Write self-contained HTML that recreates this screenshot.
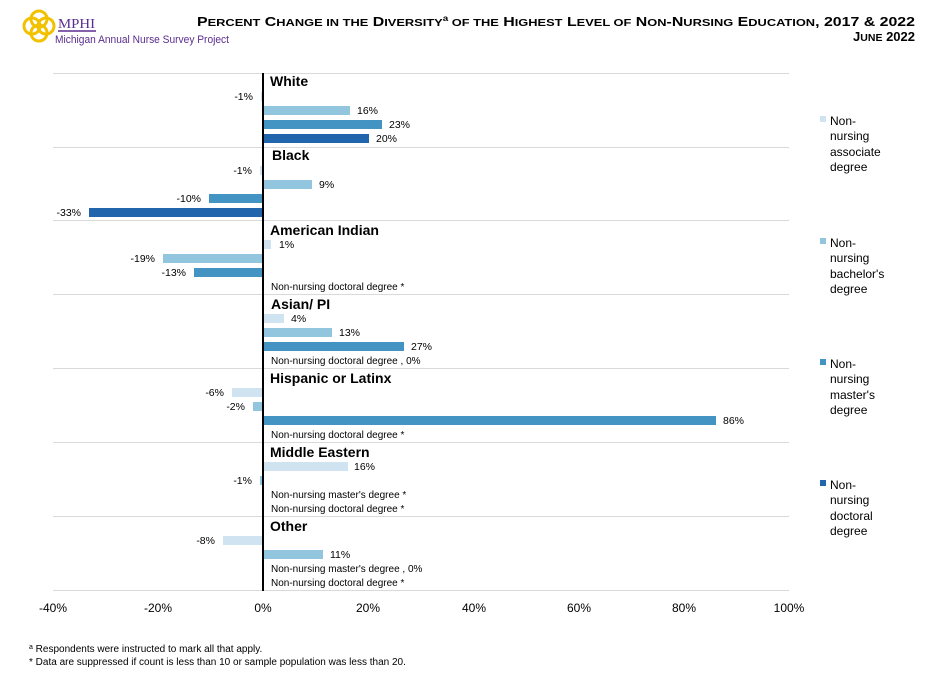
<!DOCTYPE html>
<html><head><meta charset="utf-8"><style>
body{margin:0;background:#fff;}
svg{display:block;font-family:"Liberation Sans",Arial,sans-serif;}
</style></head><body>
<svg width="947" height="678" viewBox="0 0 947 678" xmlns="http://www.w3.org/2000/svg">
<!-- logo -->
<g fill="none" stroke="#f2c200" stroke-width="3">
<circle cx="32" cy="26" r="8"/><circle cx="46" cy="26" r="8"/><circle cx="39" cy="19" r="8"/><circle cx="39" cy="33" r="8"/>
</g>
<line x1="58" x2="96" y1="31" y2="31" stroke="#5b2d8e" stroke-width="1.5"/>
<text x="58" y="28" font-size="14" fill="#5b2d8e" font-family="Liberation Serif,serif" textLength="37" lengthAdjust="spacingAndGlyphs">MPHI</text>
<text x="55" y="43" font-size="11" fill="#5b2d8e" font-family="Liberation Sans Narrow,Liberation Sans,sans-serif" textLength="174" lengthAdjust="spacingAndGlyphs">Michigan Annual Nurse Survey Project</text>
<!-- title -->
<text x="915" y="26" text-anchor="end" font-size="13" font-weight="bold" fill="#000" font-family="Liberation Sans Narrow,Liberation Sans,sans-serif" textLength="718" lengthAdjust="spacingAndGlyphs">P<tspan font-size="10.5">ERCENT</tspan> C<tspan font-size="10.5">HANGE IN THE</tspan> D<tspan font-size="10.5">IVERSITY</tspan><tspan font-size="8" dy="-5">a</tspan><tspan dy="5" font-size="10.5"> OF THE</tspan> H<tspan font-size="10.5">IGHEST</tspan> L<tspan font-size="10.5">EVEL OF</tspan> N<tspan font-size="10.5">ON</tspan>-N<tspan font-size="10.5">URSING</tspan> E<tspan font-size="10.5">DUCATION</tspan>, 2017 &amp; 2022</text>
<text x="915" y="41" text-anchor="end" font-size="13" font-weight="bold" fill="#000" font-family="Liberation Sans Narrow,Liberation Sans,sans-serif">J<tspan font-size="10.5">UNE</tspan> 2022</text>
<!-- gridlines -->
<g stroke="#d9d9d9" stroke-width="1">
<line x1="53" x2="789" y1="73.5" y2="73.5"/><line x1="53" x2="789" y1="147.5" y2="147.5"/>
<line x1="53" x2="789" y1="220.5" y2="220.5"/><line x1="53" x2="789" y1="294.5" y2="294.5"/>
<line x1="53" x2="789" y1="368.5" y2="368.5"/><line x1="53" x2="789" y1="442.5" y2="442.5"/>
<line x1="53" x2="789" y1="516.5" y2="516.5"/><line x1="53" x2="789" y1="590.5" y2="590.5"/>
</g>
<g font-size="10.5" fill="#000">
<rect x="261" y="92" width="2" height="9" fill="#cfe3f0"/><text x="253" y="100" text-anchor="end">-1%</text>
<rect x="263" y="106" width="87" height="9" fill="#92c5de"/><text x="357" y="114">16%</text>
<rect x="263" y="120" width="119" height="9" fill="#4393c3"/><text x="389" y="128">23%</text>
<rect x="263" y="134" width="106" height="9" fill="#2166ac"/><text x="376" y="142">20%</text>
<rect x="260" y="166" width="3" height="9" fill="#cfe3f0"/><text x="252" y="174" text-anchor="end">-1%</text>
<rect x="263" y="180" width="49" height="9" fill="#92c5de"/><text x="319" y="188">9%</text>
<rect x="209" y="194" width="54" height="9" fill="#4393c3"/><text x="201" y="202" text-anchor="end">-10%</text>
<rect x="89" y="208" width="174" height="9" fill="#2166ac"/><text x="81" y="216" text-anchor="end">-33%</text>
<rect x="263" y="240" width="8" height="9" fill="#cfe3f0"/><text x="279" y="248">1%</text>
<rect x="163" y="254" width="100" height="9" fill="#92c5de"/><text x="155" y="262" text-anchor="end">-19%</text>
<rect x="194" y="268" width="69" height="9" fill="#4393c3"/><text x="186" y="276" text-anchor="end">-13%</text>
<text x="271" y="290" font-size="10">Non-nursing doctoral degree *</text>
<rect x="263" y="314" width="21" height="9" fill="#cfe3f0"/><text x="291" y="322">4%</text>
<rect x="263" y="328" width="69" height="9" fill="#92c5de"/><text x="339" y="336">13%</text>
<rect x="263" y="342" width="141" height="9" fill="#4393c3"/><text x="411" y="350">27%</text>
<text x="271" y="364" font-size="10">Non-nursing doctoral degree , 0%</text>
<rect x="232" y="388" width="31" height="9" fill="#cfe3f0"/><text x="224" y="396" text-anchor="end">-6%</text>
<rect x="253" y="402" width="10" height="9" fill="#92c5de"/><text x="245" y="410" text-anchor="end">-2%</text>
<rect x="263" y="416" width="453" height="9" fill="#4393c3"/><text x="723" y="424">86%</text>
<text x="271" y="438" font-size="10">Non-nursing doctoral degree *</text>
<rect x="263" y="462" width="85" height="9" fill="#cfe3f0"/><text x="354" y="470">16%</text>
<rect x="260" y="476" width="3" height="9" fill="#92c5de"/><text x="252" y="484" text-anchor="end">-1%</text>
<text x="271" y="498" font-size="10">Non-nursing master's degree *</text>
<text x="271" y="512" font-size="10">Non-nursing doctoral degree *</text>
<rect x="223" y="536" width="40" height="9" fill="#cfe3f0"/><text x="215" y="544" text-anchor="end">-8%</text>
<rect x="263" y="550" width="60" height="9" fill="#92c5de"/><text x="330" y="558">11%</text>
<text x="271" y="572" font-size="10">Non-nursing master's degree , 0%</text>
<text x="271" y="586" font-size="10">Non-nursing doctoral degree *</text>
</g>
<g font-size="14" font-weight="bold" fill="#000">
<text x="270" y="86">White</text>
<text x="272" y="160">Black</text>
<text x="270" y="235">American Indian</text>
<text x="271" y="309">Asian/ PI</text>
<text x="270" y="383">Hispanic or Latinx</text>
<text x="270" y="457">Middle Eastern</text>
<text x="270" y="531">Other</text>
</g>
<line x1="263" x2="263" y1="73" y2="591" stroke="#000" stroke-width="2"/>
<g font-size="12" fill="#000" text-anchor="middle">
<text x="53" y="612">-40%</text><text x="158" y="612">-20%</text><text x="263" y="612">0%</text>
<text x="368" y="612">20%</text><text x="474" y="612">40%</text><text x="579" y="612">60%</text>
<text x="684" y="612">80%</text><text x="789" y="612">100%</text>
</g>
<g font-size="12" fill="#000">
<rect x="820" y="116" width="6" height="6" fill="#cfe3f0"/>
<text x="830" y="125">Non-</text><text x="830" y="140">nursing</text><text x="830" y="156">associate</text><text x="830" y="171">degree</text>
<rect x="820" y="238" width="6" height="6" fill="#92c5de"/>
<text x="830" y="247">Non-</text><text x="830" y="262">nursing</text><text x="830" y="278">bachelor's</text><text x="830" y="293">degree</text>
<rect x="820" y="359" width="6" height="6" fill="#4393c3"/>
<text x="830" y="368">Non-</text><text x="830" y="383">nursing</text><text x="830" y="399">master's</text><text x="830" y="414">degree</text>
<rect x="820" y="480" width="6" height="6" fill="#2166ac"/>
<text x="830" y="489">Non-</text><text x="830" y="504">nursing</text><text x="830" y="520">doctoral</text><text x="830" y="535">degree</text>
</g>
<g font-size="10" fill="#000">
<text x="29" y="652"><tspan font-size="7" dy="-3">a</tspan><tspan dy="3"> Respondents were instructed to mark all that apply.</tspan></text>
<text x="29" y="665">* Data are suppressed if count is less than 10 or sample population was less than 20.</text>
</g>
</svg>
</body></html>
